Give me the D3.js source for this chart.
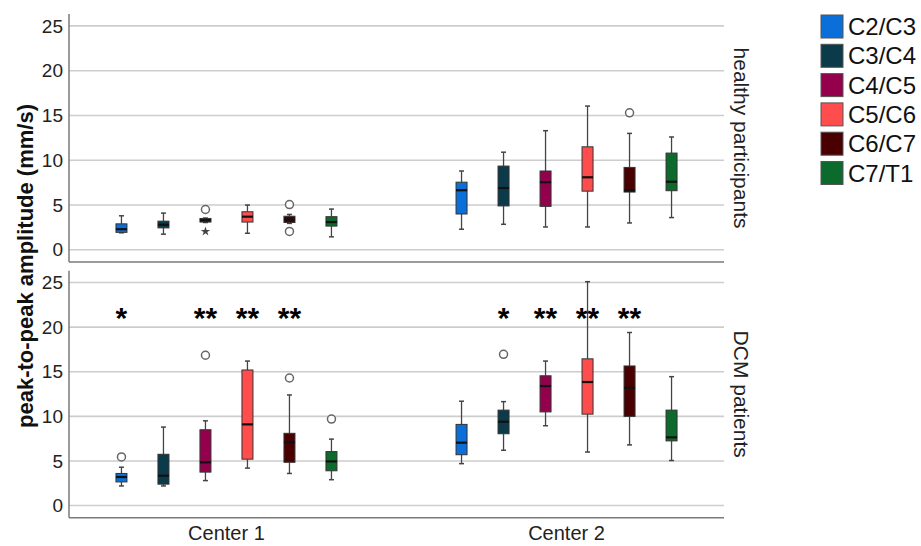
<!DOCTYPE html>
<html>
<head>
<meta charset="utf-8">
<script src="https://cdn.jsdelivr.net/npm/d3@7"></script>
<style>
  html, body { margin: 0; padding: 0; background: #fff; }
  svg { display: block; font-family: "Liberation Sans", Arial, Helvetica, sans-serif; }
</style>
</head>
<body>
<svg id="chart" width="921" height="546"></svg>
<script>
// ---------------- DATA ----------------
const categories = ["C2/C3", "C3/C4", "C4/C5", "C5/C6", "C6/C7", "C7/T1"];
const centers = ["Center 1", "Center 2"];
const groups = ["healthy participants", "DCM patients"];
const yTicks = [0, 5, 10, 15, 20, 25];
const colors = ["#0a6fd8", "#0b3a4a", "#94004c", "#ff4d4d", "#4a0000", "#0b6a2c"];

// box stats per category: [whiskerLow, q1, median, q3, whiskerHigh]
const healthyCenter1 = [
  [1.9, 1.95, 2.3, 2.9, 3.8],
  [1.75, 2.45, 2.8, 3.2, 4.1],
  [3.05, 3.1, 3.3, 3.5, 3.55],
  [1.85, 3.1, 3.7, 4.25, 5.0],
  [2.95, 3.05, 3.4, 3.75, 3.95],
  [1.45, 2.65, 3.1, 3.7, 4.55]
];
const healthyCenter2 = [
  [2.3, 4.0, 6.65, 7.55, 8.8],
  [2.85, 4.9, 6.9, 9.35, 10.9],
  [2.55, 4.85, 7.55, 8.8, 13.3],
  [2.55, 6.55, 8.1, 11.5, 16.05],
  [3.0, 6.45, 6.65, 9.2, 13.0],
  [3.6, 6.6, 7.6, 10.8, 12.6]
];
const dcmCenter1 = [
  [2.2, 2.65, 3.2, 3.6, 4.3],
  [2.2, 2.4, 3.35, 5.75, 8.8],
  [2.8, 3.75, 4.85, 8.5, 9.5],
  [4.2, 5.2, 9.1, 15.2, 16.2],
  [3.6, 4.85, 7.1, 8.1, 12.4],
  [2.9, 3.9, 4.95, 6.05, 7.45]
];
const dcmCenter2 = [
  [4.7, 5.7, 7.05, 9.1, 11.7],
  [6.2, 8.05, 9.4, 10.7, 11.65],
  [8.95, 10.5, 13.4, 14.55, 16.2],
  [6.0, 10.25, 13.85, 16.45, 25.1],
  [6.8, 10.0, 13.2, 15.65, 19.4],
  [5.05, 7.25, 7.65, 10.7, 14.45]
];
// mild outliers (circles) and extremes (stars)
const healthyCenter1Outliers = [[], [], [4.5], [], [5.05, 2.05], []];
const healthyCenter1Extremes = [[], [], [2.05], [], [], []];
const healthyCenter2Outliers = [[], [], [], [], [15.3], []];
const dcmCenter1Outliers = [[5.45], [], [16.85], [], [14.3], [9.7]];
const dcmCenter2Outliers = [[], [16.95], [], [], [], []];
// significance marks for DCM panel
const dcmCenter1Sig = ["*", "", "**", "**", "**", ""];
const dcmCenter2Sig = ["", "*", "**", "**", "**", ""];
const sigLevel = 21.5;

// ---------------- LAYOUT ----------------
const svg = d3.select("#chart");
const left = 69, right = 724;
const panelsPx = [[14, 262], [270.7, 517.7]];
const yDomain = [-1.36, 26.33];

const x = d3.scalePoint().domain(centers).range([left, right]).padding(0.463);
const xi = d3.scaleBand().domain(categories).range([-126, 126]);
const color = d3.scaleOrdinal().domain(categories).range(colors);
const boxW = 11, capW = 5;

const panelData = [
  { group: groups[0], stats: [healthyCenter1, healthyCenter2],
    outliers: [healthyCenter1Outliers, healthyCenter2Outliers],
    extremes: [healthyCenter1Extremes, [[], [], [], [], [], []]], sig: null },
  { group: groups[1], stats: [dcmCenter1, dcmCenter2],
    outliers: [dcmCenter1Outliers, dcmCenter2Outliers],
    extremes: [[[], [], [], [], [], []], [[], [], [], [], [], []]], sig: [dcmCenter1Sig, dcmCenter2Sig] }
];

panelData.forEach((p, pi) => {
  const [top, bottom] = panelsPx[pi];
  const y = d3.scaleLinear().domain(yDomain).range([bottom, top]);
  const g = svg.append("g");

  // gridlines
  g.append("g")
    .selectAll("line").data(yTicks).join("line")
    .attr("x1", left).attr("x2", right)
    .attr("y1", d => y(d)).attr("y2", d => y(d))
    .attr("stroke", "#cdcdcd").attr("stroke-width", 1.6);

  // y axis
  const ya = g.append("g").attr("transform", `translate(${left},0)`)
    .call(d3.axisLeft(y).tickValues(yTicks).tickSize(0).tickPadding(6));
  ya.select(".domain").remove();
  ya.selectAll("text").attr("font-size", 19).attr("fill", "#222")
    .attr("font-family", "'Liberation Sans', Arial, sans-serif");

  // axis frame lines
  g.append("line").attr("x1", left).attr("x2", left).attr("y1", top).attr("y2", bottom)
    .attr("stroke", "#7a7a7a").attr("stroke-width", 1.5);
  g.append("line").attr("x1", left).attr("x2", right).attr("y1", bottom).attr("y2", bottom)
    .attr("stroke", "#7a7a7a").attr("stroke-width", 1.5);

  // strip label
  const cy = (top + bottom) / 2;
  g.append("text")
    .attr("transform", `translate(741,${cy}) rotate(90)`)
    .attr("text-anchor", "middle").attr("dominant-baseline", "central")
    .attr("font-size", 21).attr("fill", "#222").text(p.group);

  centers.forEach((c, ci) => {
    categories.forEach((cat, k) => {
      const s = p.stats[ci][k];
      const cx = x(c) + xi(cat) + xi.bandwidth() / 2;
      const bg = g.append("g");
      // whiskers
      bg.append("line").attr("x1", cx).attr("x2", cx).attr("y1", y(s[0])).attr("y2", y(s[1]))
        .attr("stroke", "#444").attr("stroke-width", 1.3);
      bg.append("line").attr("x1", cx).attr("x2", cx).attr("y1", y(s[3])).attr("y2", y(s[4]))
        .attr("stroke", "#444").attr("stroke-width", 1.3);
      [s[0], s[4]].forEach(v => {
        bg.append("line").attr("x1", cx - capW / 2).attr("x2", cx + capW / 2)
          .attr("y1", y(v)).attr("y2", y(v)).attr("stroke", "#444").attr("stroke-width", 1.5);
      });
      // box
      bg.append("rect").attr("x", cx - boxW / 2).attr("width", boxW)
        .attr("y", y(s[3])).attr("height", Math.max(1, y(s[1]) - y(s[3])))
        .attr("fill", color(cat)).attr("stroke", "#333").attr("stroke-width", 1);
      // median
      bg.append("line").attr("x1", cx - boxW / 2).attr("x2", cx + boxW / 2)
        .attr("y1", y(s[2])).attr("y2", y(s[2])).attr("stroke", "#111").attr("stroke-width", 2.2);
      // outliers
      p.outliers[ci][k].forEach(v => {
        if (p.extremes[ci][k].includes(v)) return;
        bg.append("circle").attr("cx", cx).attr("cy", y(v)).attr("r", 4)
          .attr("fill", "#fff").attr("stroke", "#666").attr("stroke-width", 1.5);
      });
      p.extremes[ci][k].forEach(v => {
        bg.append("path").attr("transform", `translate(${cx},${y(v)})`)
          .attr("d", d3.symbol(d3.symbolStar, 28)()).attr("fill", "#444");
      });
      // significance
      if (p.sig && p.sig[ci][k]) {
        bg.append("text").attr("x", cx).attr("y", y(sigLevel)).attr("dy", "0.48em")
          .attr("text-anchor", "middle").attr("font-weight", "bold")
          .attr("font-size", 30).attr("fill", "#000").text(p.sig[ci][k]);
      }
    });
  });
});

// x axis labels
svg.append("g").selectAll("text").data(centers).join("text")
  .attr("x", d => x(d)).attr("y", 540).attr("text-anchor", "middle")
  .attr("font-size", 20).attr("fill", "#222").text(d => d);

// y title
svg.append("text")
  .attr("transform", `translate(25,266) rotate(-90)`)
  .attr("text-anchor", "middle").attr("dominant-baseline", "central")
  .attr("font-size", 22).attr("font-weight", "bold").attr("fill", "#111")
  .text("peak-to-peak amplitude (mm/s)");

// legend
const lg = svg.append("g").attr("transform", "translate(821,15)");
const items = lg.selectAll("g").data(categories).join("g")
  .attr("transform", (d, i) => `translate(0,${i * 29.3})`);
items.append("rect").attr("width", 22).attr("height", 23)
  .attr("fill", d => color(d)).attr("stroke", "#555").attr("stroke-width", 1);
items.append("text").attr("x", 27).attr("y", 11.5).attr("dominant-baseline", "central")
  .attr("font-size", 24).attr("fill", "#111").text(d => d);
</script>
</body>
</html>
